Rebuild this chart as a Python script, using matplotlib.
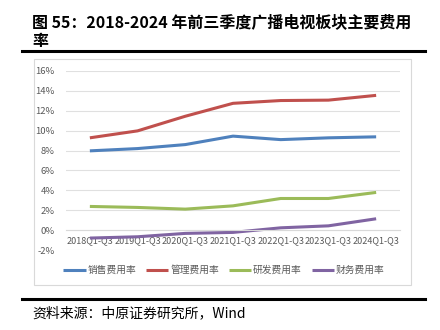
import matplotlib.pyplot as plt
from matplotlib.patches import Rectangle
from matplotlib.lines import Line2D

plt.rcParams['font.family'] = ['Noto Sans CJK SC', 'DejaVu Sans']

periods = ['2018Q1-Q3', '2019Q1-Q3', '2020Q1-Q3', '2021Q1-Q3',
           '2022Q1-Q3', '2023Q1-Q3', '2024Q1-Q3']
sales = [7.97, 8.2, 8.6, 9.45, 9.1, 9.28, 9.38]
admin = [9.28, 9.98, 11.45, 12.75, 13.03, 13.07, 13.55]
rnd = [2.38, 2.28, 2.11, 2.44, 3.18, 3.18, 3.79]
finance = [-0.8, -0.67, -0.33, -0.23, 0.23, 0.43, 1.14]
series_names = ['销售费用率', '管理费用率', '研发费用率', '财务费用率']
colors = ['#4F81BD', '#C0504D', '#9BBB59', '#8064A2']

W, H = 440, 330
fig = plt.figure(figsize=(4.4, 3.3), dpi=100)

def fx(px):
    return px / W

def fy(py):
    return 1 - py / H

# title
fig.text(fx(32), fy(22), '图 55：2018-2024 年前三季度广播电视板块主要费用',
         fontsize=11.5, fontweight='bold', va='center', ha='left')
fig.text(fx(32), fy(41), '率', fontsize=11.5, fontweight='bold', va='center', ha='left')

# thick rules
fig.add_artist(Line2D([fx(22), fx(425)], [fy(51), fy(51)], color='black', lw=2.2))
fig.add_artist(Line2D([fx(22), fx(425)], [fy(299), fy(299)], color='black', lw=2.2))

# chart frame
fig.add_artist(Rectangle((fx(34), fy(285)), fx(411) - fx(34), fy(59) - fy(285),
                         fill=False, edgecolor='#d9d9d9', lw=0.8))

ax = fig.add_axes([fx(66), fy(250), fx(400) - fx(66), fy(71) - fy(250)])
x = range(len(periods))
for vals, name, c in zip([sales, admin, rnd, finance], series_names, colors):
    ax.plot(x, vals, color=c, lw=2.2, label=name, solid_capstyle='butt')

ax.set_xlim(-0.5, 6.5)
ax.set_ylim(-2, 16)
ax.set_yticks(range(-2, 17, 2))
ax.set_yticklabels([f'{v}%' for v in range(-2, 17, 2)])
ax.yaxis.grid(True, color='#e0e0e0', lw=0.8)
ax.set_axisbelow(True)
for s in ['top', 'right', 'left']:
    ax.spines[s].set_visible(False)
ax.spines['bottom'].set_position(('data', 0))
ax.spines['bottom'].set_color('#d9d9d9')
ax.spines['bottom'].set_linewidth(0.8)
ax.set_xticks(list(x))
ax.set_xticklabels(periods)
ax.tick_params(axis='x', length=0, pad=4, labelsize=6.5, labelcolor='#595959')
ax.tick_params(axis='y', length=0, pad=8, labelsize=6.8, labelcolor='#595959')
ax.patch.set_visible(False)

fig.legend(loc='center', bbox_to_anchor=(fx(224), fy(270)), ncol=4, frameon=False,
           fontsize=7, labelcolor='#595959', handlelength=2.3, handletextpad=0.2,
           columnspacing=1.0)

fig.text(fx(32), fy(313), '资料来源：中原证券研究所，Wind', fontsize=10,
         va='center', ha='left')

fig.savefig('out.png', dpi=100)
